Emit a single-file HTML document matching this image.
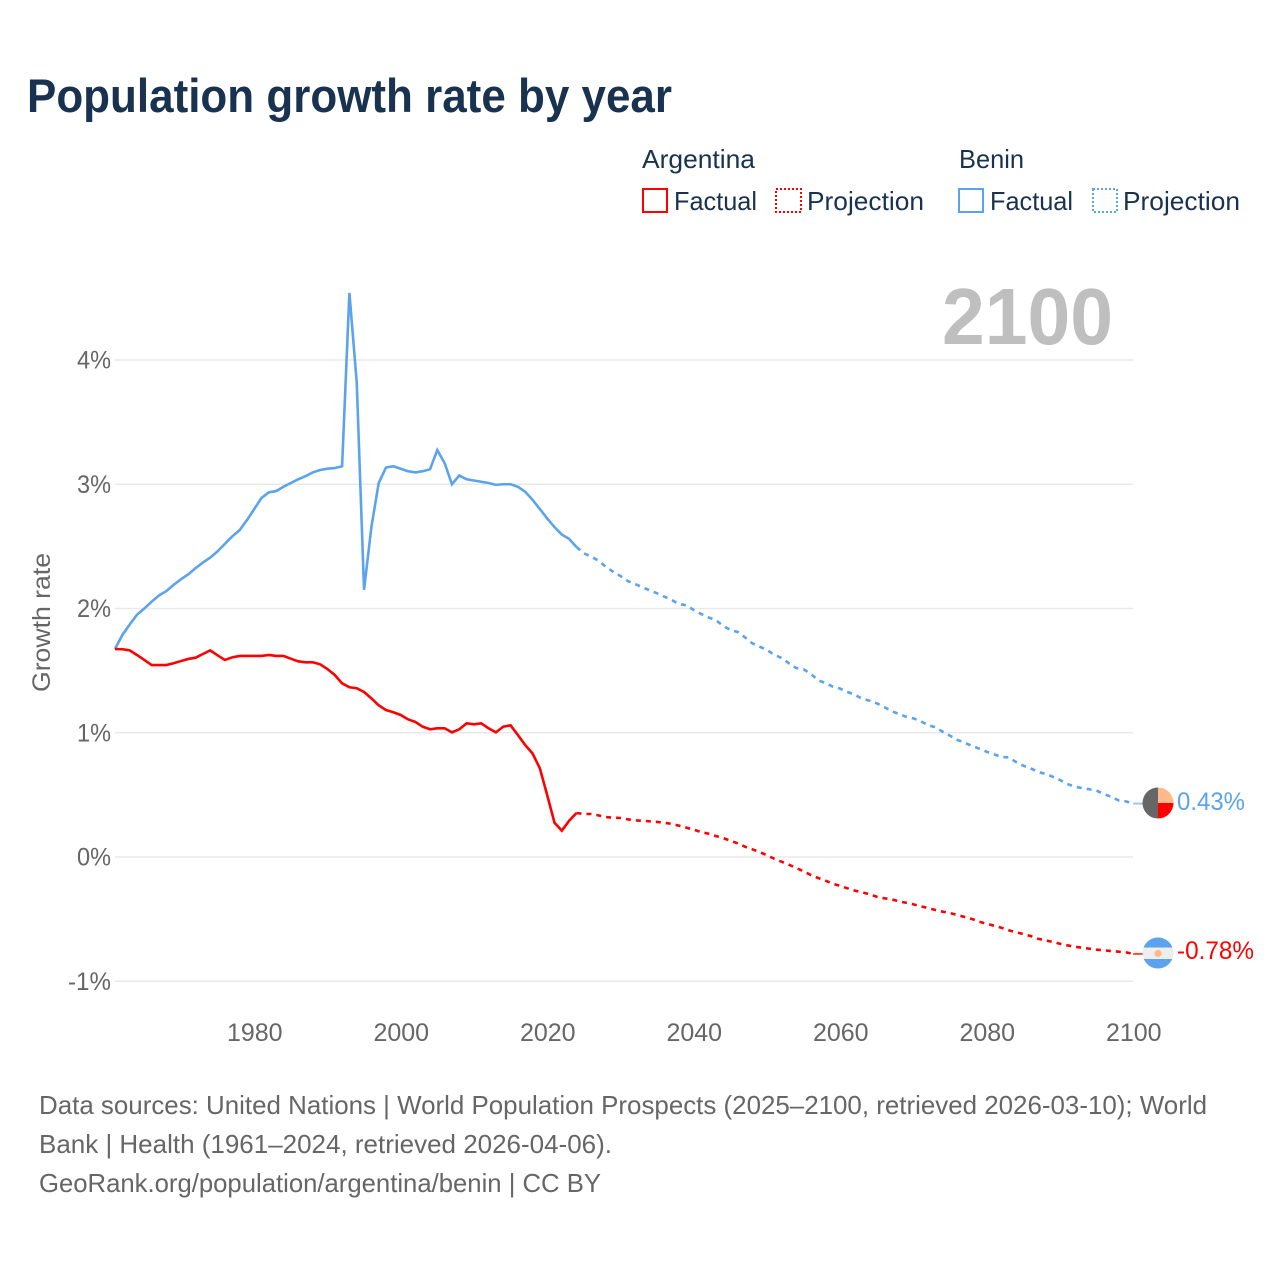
<!DOCTYPE html>
<html lang="en">
<head>
<meta charset="utf-8">
<title>Population growth rate by year</title>
<style>
html,body{margin:0;padding:0;background:#fff;}
svg{display:block;}
text{font-family:"Liberation Sans",sans-serif;}
</style>
</head>
<body>
<svg id="chart" xmlns="http://www.w3.org/2000/svg" width="1280" height="1280" viewBox="0 0 1280 1280">
  <rect width="1280" height="1280" fill="#fff"/>
  <text x="27" y="112" font-size="47" font-weight="700" fill="#18324f" textLength="645" lengthAdjust="spacingAndGlyphs">Population growth rate by year</text>

  <g font-size="26" fill="#18324f">
    <text x="642" y="168" textLength="113" lengthAdjust="spacingAndGlyphs">Argentina</text>
    <rect x="643" y="189" width="24" height="23" fill="none" stroke="#ff0000" stroke-width="2"/>
    <text x="674" y="210" textLength="83" lengthAdjust="spacingAndGlyphs">Factual</text>
    <rect x="776" y="189" width="25" height="23" fill="none" stroke="#ff0000" stroke-width="2" stroke-dasharray="2 2"/>
    <text x="807" y="210" textLength="117" lengthAdjust="spacingAndGlyphs">Projection</text>
    <text x="959" y="168" textLength="65" lengthAdjust="spacingAndGlyphs">Benin</text>
    <rect x="959" y="189" width="24" height="23" fill="none" stroke="#5ba3ec" stroke-width="2"/>
    <text x="990" y="210" textLength="83" lengthAdjust="spacingAndGlyphs">Factual</text>
    <rect x="1093" y="189" width="24" height="23" fill="none" stroke="#5ba3ec" stroke-width="2" stroke-dasharray="2 2"/>
    <text x="1123" y="210" textLength="117" lengthAdjust="spacingAndGlyphs">Projection</text>
  </g>

  <g id="grid"></g>
  <g id="yticks" font-size="25" fill="#666" text-anchor="end"></g>
  <g id="xticks" font-size="25" fill="#666" text-anchor="middle"></g>
  <text transform="translate(50 692) rotate(-90)" font-size="25" fill="#666" textLength="139" lengthAdjust="spacingAndGlyphs">Growth rate</text>
  <text x="942" y="344" font-size="80" font-weight="700" fill="#bfbfbf" textLength="171" lengthAdjust="spacingAndGlyphs">2100</text>

  <g id="series"></g>

  <defs>
    <clipPath id="clip-benin"><circle cx="1158" cy="803" r="15.5"/></clipPath>
    <clipPath id="clip-argentina"><circle cx="1158" cy="953" r="15.5"/></clipPath>
  </defs>
  <g clip-path="url(#clip-benin)">
    <rect x="1142" y="787" width="16" height="32" fill="#666"/>
    <rect x="1158" y="787" width="16" height="16" fill="#ffb98a"/>
    <rect x="1158" y="803" width="16" height="16" fill="#ff0000"/>
  </g>
  <g clip-path="url(#clip-argentina)">
    <rect x="1142" y="937" width="32" height="10.5" fill="#5ba3ec"/>
    <rect x="1142" y="947.5" width="32" height="11.5" fill="#eeeeee"/>
    <rect x="1142" y="959" width="32" height="10" fill="#5ba3ec"/>
    <circle cx="1158" cy="953.5" r="3.6" fill="#ffb98a"/>
  </g>
  <text x="1177" y="810" font-size="25" fill="#5ba3ec" textLength="68" lengthAdjust="spacingAndGlyphs">0.43%</text>
  <text x="1177" y="959" font-size="25" fill="#ff0000" textLength="77" lengthAdjust="spacingAndGlyphs">-0.78%</text>

  <g font-size="26" fill="#666">
    <text x="39" y="1114" textLength="1168" lengthAdjust="spacingAndGlyphs">Data sources: United Nations | World Population Prospects (2025–2100, retrieved 2026-03-10); World</text>
    <text x="39" y="1153" textLength="573" lengthAdjust="spacingAndGlyphs">Bank | Health (1961–2024, retrieved 2026-04-06).</text>
    <text x="39" y="1192" textLength="562" lengthAdjust="spacingAndGlyphs">GeoRank.org/population/argentina/benin | CC BY</text>
  </g>
</svg>
<script>
const factualStartYear = 1961;
const projectionStartYear = 2024;
const yTickValues = [-1, 0, 1, 2, 3, 4];
const yTickLabels = ["-1%", "0%", "1%", "2%", "3%", "4%"];
const xTickValues = [1980, 2000, 2020, 2040, 2060, 2080, 2100];
const xTickLabels = ["1980", "2000", "2020", "2040", "2060", "2080", "2100"];

const beninFactual = [
  1.674,1.787,1.87,1.95,2.0,2.055,2.105,2.14,2.19,2.235,
  2.275,2.325,2.37,2.41,2.46,2.52,2.58,2.63,2.71,2.80,
  2.89,2.935,2.945,2.98,3.01,3.04,3.065,3.095,3.115,3.125,
  3.13,3.145,4.54,3.82,2.15,2.655,3.01,3.135,3.145,3.125,
  3.105,3.095,3.105,3.12,3.275,3.17,3.0,3.07,3.04,3.03,
  3.02,3.01,2.995,3.0,3.0,2.98,2.94,2.875,2.80,2.725,
  2.655,2.595,2.56,2.495
];
const beninProjection = [
  2.495,2.444,2.418,2.385,2.336,2.296,2.262,2.221,2.197,2.171,2.146,
  2.122,2.095,2.068,2.036,2.026,1.988,1.956,1.929,1.907,1.862,
  1.827,1.811,1.768,1.72,1.693,1.666,1.628,1.602,1.559,1.521,
  1.511,1.473,1.422,1.4,1.371,1.355,1.328,1.306,1.274,1.258,
  1.237,1.207,1.175,1.151,1.129,1.116,1.092,1.062,1.044,1.008,
  0.976,0.942,0.92,0.893,0.872,0.847,0.827,0.805,0.802,0.765,
  0.735,0.714,0.684,0.67,0.646,0.62,0.588,0.566,0.555,0.545,
  0.534,0.507,0.485,0.456,0.448,0.43
];
const argentinaFactual = [
  1.674,1.672,1.663,1.626,1.586,1.545,1.545,1.545,1.559,1.577,
  1.594,1.604,1.634,1.663,1.623,1.586,1.607,1.618,1.618,1.618,
  1.618,1.626,1.618,1.618,1.596,1.575,1.567,1.567,1.551,1.513,
  1.465,1.398,1.366,1.358,1.328,1.277,1.221,1.183,1.165,1.143,
  1.108,1.087,1.049,1.028,1.036,1.036,1.003,1.028,1.076,1.068,
  1.076,1.036,1.003,1.049,1.06,0.982,0.901,0.834,0.714,0.499,
  0.276,0.212,0.292,0.354
];
const argentinaProjection = [
  0.354,0.346,0.346,0.335,0.322,0.316,0.314,0.303,0.295,0.292,0.287,
  0.282,0.276,0.266,0.252,0.236,0.22,0.201,0.188,0.169,0.153,
  0.131,0.11,0.083,0.062,0.04,0.014,-0.014,-0.038,-0.062,-0.089,
  -0.115,-0.145,-0.169,-0.191,-0.215,-0.233,-0.252,-0.271,-0.284,-0.3,
  -0.32,-0.332,-0.34,-0.357,-0.368,-0.381,-0.397,-0.41,-0.427,-0.44,
  -0.451,-0.467,-0.483,-0.499,-0.521,-0.537,-0.553,-0.569,-0.59,-0.606,
  -0.62,-0.636,-0.658,-0.67,-0.684,-0.698,-0.711,-0.722,-0.73,-0.738,
  -0.746,-0.751,-0.757,-0.762,-0.767,-0.78
];

const NS = 'http://www.w3.org/2000/svg';
function xScale(year) { return 115 + (year - 1961) * 7.325; }
function yScale(value) { return 857 - value * 124.25; }
function pathFrom(values, startYear) {
  return values.map(function (v, i) {
    return (i ? 'L' : 'M') + xScale(startYear + i).toFixed(2) + ' ' + yScale(v).toFixed(2);
  }).join('');
}

const gridGroup = document.getElementById('grid');
const yTickGroup = document.getElementById('yticks');
yTickValues.forEach(function (value, i) {
  const line = document.createElementNS(NS, 'line');
  
  
  line.setAttribute('x1', 115);
  line.setAttribute('x2', 1133);
  line.setAttribute('y1', yScale(value));
  line.setAttribute('y2', yScale(value));
  line.setAttribute('stroke', '#e9e9e9');
  line.setAttribute('stroke-width', '1.5');
  gridGroup.appendChild(line);

  const label = document.createElementNS(NS, 'text');
  
  
  label.setAttribute('x', 111);
  label.setAttribute('y', yScale(value) + 8.5);
  label.setAttribute('textLength', yTickLabels[i].length === 3 ? 43 : 34);
  label.setAttribute('lengthAdjust', 'spacingAndGlyphs');
  label.textContent = yTickLabels[i];
  yTickGroup.appendChild(label);
});

const xTickGroup = document.getElementById('xticks');
xTickValues.forEach(function (year, i) {
  const label = document.createElementNS(NS, 'text');
  
  
  label.setAttribute('x', xScale(year) + 0.6);
  label.setAttribute('y', 1041);
  label.textContent = xTickLabels[i];
  xTickGroup.appendChild(label);
});

const seriesGroup = document.getElementById('series');

const beninFactualPath = document.createElementNS(NS, 'path');


beninFactualPath.setAttribute('d', pathFrom(beninFactual, factualStartYear));
beninFactualPath.setAttribute('fill', 'none');
beninFactualPath.setAttribute('stroke', '#5ba3ec');
beninFactualPath.setAttribute('stroke-width', '2.6');
seriesGroup.appendChild(beninFactualPath);

const beninProjectionPath = document.createElementNS(NS, 'path');


beninProjectionPath.setAttribute('d', pathFrom(beninProjection, projectionStartYear));
beninProjectionPath.setAttribute('fill', 'none');
beninProjectionPath.setAttribute('stroke', '#5ba3ec');
beninProjectionPath.setAttribute('stroke-width', '2.6');
beninProjectionPath.setAttribute('stroke-dasharray', '5 5');
seriesGroup.appendChild(beninProjectionPath);

const argentinaFactualPath = document.createElementNS(NS, 'path');


argentinaFactualPath.setAttribute('d', pathFrom(argentinaFactual, factualStartYear));
argentinaFactualPath.setAttribute('fill', 'none');
argentinaFactualPath.setAttribute('stroke', '#ff0000');
argentinaFactualPath.setAttribute('stroke-width', '2.6');
seriesGroup.appendChild(argentinaFactualPath);

const argentinaProjectionPath = document.createElementNS(NS, 'path');


argentinaProjectionPath.setAttribute('d', pathFrom(argentinaProjection, projectionStartYear));
argentinaProjectionPath.setAttribute('fill', 'none');
argentinaProjectionPath.setAttribute('stroke', '#ff0000');
argentinaProjectionPath.setAttribute('stroke-width', '2.6');
argentinaProjectionPath.setAttribute('stroke-dasharray', '5 5');
seriesGroup.appendChild(argentinaProjectionPath);

const beninConnector = document.createElementNS(NS, 'line');


beninConnector.setAttribute('x1', xScale(2100));
beninConnector.setAttribute('x2', 1143);
beninConnector.setAttribute('y1', yScale(beninProjection[beninProjection.length - 1]));
beninConnector.setAttribute('y2', yScale(beninProjection[beninProjection.length - 1]));
beninConnector.setAttribute('stroke', '#9cc7f3');
beninConnector.setAttribute('stroke-width', '2');
seriesGroup.appendChild(beninConnector);

const argentinaConnector = document.createElementNS(NS, 'line');


argentinaConnector.setAttribute('x1', xScale(2100));
argentinaConnector.setAttribute('x2', 1143);
argentinaConnector.setAttribute('y1', yScale(argentinaProjection[argentinaProjection.length - 1]));
argentinaConnector.setAttribute('y2', yScale(argentinaProjection[argentinaProjection.length - 1]));
argentinaConnector.setAttribute('stroke', '#ff4d2e');
argentinaConnector.setAttribute('stroke-width', '2');
seriesGroup.appendChild(argentinaConnector);
</script>
</body>
</html>
